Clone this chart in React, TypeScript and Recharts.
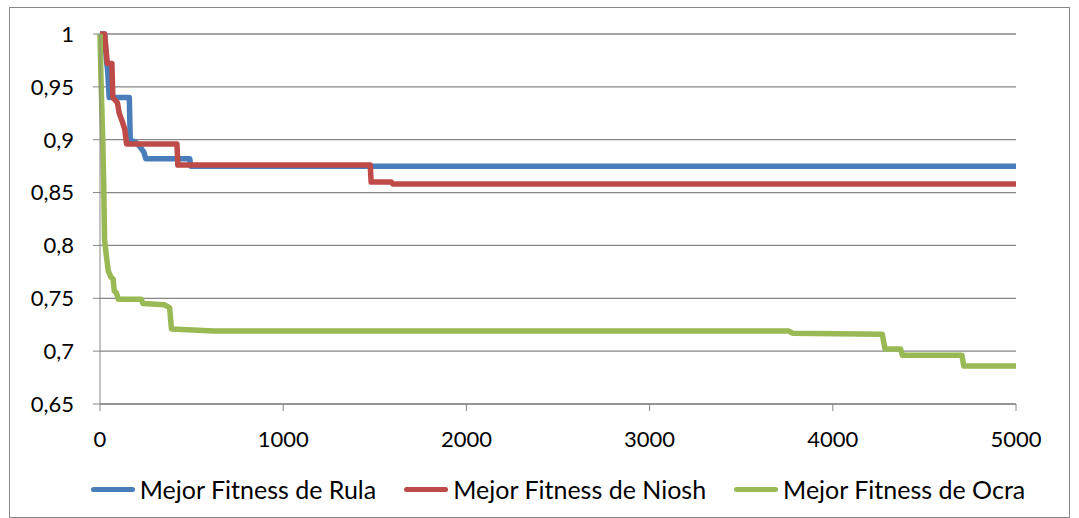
import {
  LineChart,
  Line,
  XAxis,
  YAxis,
  CartesianGrid,
  Legend,
} from "recharts";

// best fitness per iteration for each ergonomic method
const rulaIter = [0, 25, 35, 42, 50, 160, 165, 200, 220, 240, 250, 490, 495, 5000];
const rulaFit = [1, 1, 0.975, 0.965, 0.94, 0.94, 0.9, 0.897, 0.893, 0.888, 0.882, 0.882, 0.875, 0.875];

const nioshIter = [0, 25, 40, 65, 70, 95, 105, 120, 135, 145, 420, 425, 1475, 1480, 1590, 1600, 5000];
const nioshFit = [1, 1, 0.972, 0.972, 0.94, 0.935, 0.925, 0.918, 0.91, 0.896, 0.896, 0.876, 0.876, 0.86, 0.86, 0.858, 0.858];

const ocraIter = [
  0, 5, 10, 15, 20, 25, 35, 45, 60, 72, 78, 90, 100, 225, 235, 350, 370, 380, 390, 620,
  3760, 3780, 4270, 4285, 4370, 4380, 4705, 4715, 5000,
];
const ocraFit = [
  1, 0.96, 0.93, 0.9, 0.86, 0.805, 0.79, 0.776, 0.77, 0.768, 0.757, 0.755, 0.749, 0.749,
  0.745, 0.744, 0.742, 0.741, 0.721, 0.719, 0.719, 0.717, 0.716, 0.702, 0.702, 0.696,
  0.696, 0.686, 0.686,
];

const xTicks = [0, 1000, 2000, 3000, 4000, 5000];
const yTicks = [0.65, 0.7, 0.75, 0.8, 0.85, 0.9, 0.95, 1];

const toPoints = (xs: number[], ys: number[]) => xs.map((x, i) => ({ x, y: ys[i] }));

const series = [
  { name: "Mejor Fitness de Rula", color: "#4A7EBB", data: toPoints(rulaIter, rulaFit) },
  { name: "Mejor Fitness de Niosh", color: "#BE4B48", data: toPoints(nioshIter, nioshFit) },
  { name: "Mejor Fitness de Ocra", color: "#98B954", data: toPoints(ocraIter, ocraFit) },
];

const FONT = "Lato, 'Open Sans', sans-serif";
const GRID = "#868686";

const formatY = (v: number) => String(Number(v.toFixed(2))).replace(".", ",");

const CustomLegend = () => (
  <ul
    style={{
      listStyleType: "none",
      margin: 0,
      padding: 0,
      display: "flex",
      justifyContent: "center",
      gap: 28,
      fontFamily: FONT,
      fontSize: 25,
      lineHeight: "28px",
      whiteSpace: "nowrap",
      color: "#000",
    }}
  >
    {series.map((s) => (
      <li key={s.name} style={{ display: "flex", alignItems: "center", gap: 5 }}>
        <span
          style={{
            display: "inline-block",
            width: 44,
            height: 5,
            borderRadius: 3,
            backgroundColor: s.color,
          }}
        ></span>
        <span>{s.name}</span>
      </li>
    ))}
  </ul>
);

export default function App() {
  return (
    <div>
      <style>{"body{margin:0}"}</style>
      <div
        style={{
          position: "absolute",
          left: 9,
          top: 7,
          width: 1061,
          height: 511,
          border: `1px solid ${GRID}`,
          boxSizing: "border-box",
        }}
      >
        <LineChart
          width={1061}
          height={511}
          margin={{ top: 26, right: 55, left: 0, bottom: 0 }}
        >
          <CartesianGrid stroke={GRID} strokeWidth={1.3} vertical={false} />
          <XAxis
            dataKey="x"
            type="number"
            domain={[0, 5000]}
            ticks={xTicks}
            allowDuplicatedCategory={false}
            stroke={GRID}
            tickSize={7}
            tickMargin={20}
            height={70}
            tick={{ fill: "#000", fontSize: 22, fontFamily: FONT }}
          />
          <YAxis
            type="number"
            domain={[0.65, 1]}
            ticks={yTicks}
            width={90}
            stroke={GRID}
            tickSize={7}
            tickMargin={19}
            tickFormatter={formatY}
            tick={{ fill: "#000", fontSize: 22, fontFamily: FONT }}
          />
          <Legend
            content={<CustomLegend />}
            height={45}
            wrapperStyle={{ top: 467, left: 18, width: 1060 }}
          />
          {series.map((s) => (
            <Line
              key={s.name}
              data={s.data}
              dataKey="y"
              name={s.name}
              type="linear"
              stroke={s.color}
              strokeWidth={5.5}
              strokeLinejoin="round"
              dot={false}
              activeDot={false}
              isAnimationActive={false}
            />
          ))}
        </LineChart>
      </div>
    </div>
  );
}
